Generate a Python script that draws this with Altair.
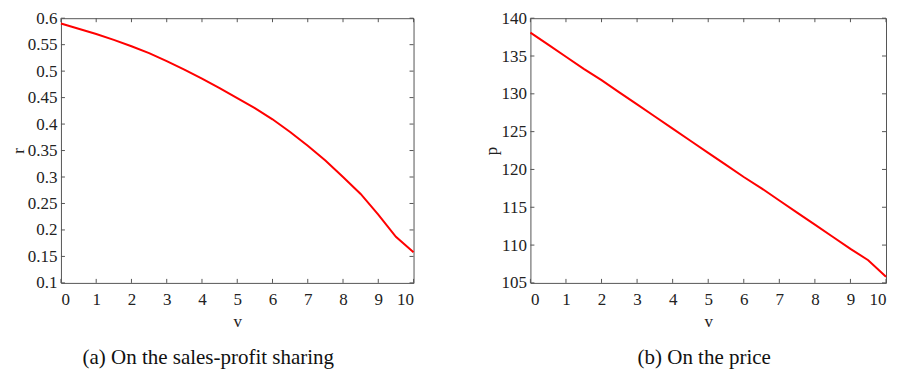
import altair as alt
import pandas as pd

v_vals = [0, 0.5, 1, 1.5, 2, 2.5, 3, 3.5, 4, 4.5, 5, 5.5, 6, 6.5, 7, 7.5, 8, 8.5, 9, 9.5, 10]
r_vals = [0.590, 0.580, 0.570, 0.559, 0.547, 0.534, 0.519, 0.503, 0.486, 0.468, 0.449,
          0.430, 0.409, 0.385, 0.359, 0.331, 0.300, 0.268, 0.229, 0.187, 0.158]
p_vals = [138.1, 136.5, 134.9, 133.3, 131.8, 130.2, 128.6, 127.0, 125.4, 123.8, 122.2,
          120.6, 119.0, 117.5, 115.9, 114.3, 112.7, 111.1, 109.5, 108.0, 105.8]

x_ticks = [0, 1, 2, 3, 4, 5, 6, 7, 8, 9, 10]
r_ticks = [0.1, 0.15, 0.2, 0.25, 0.3, 0.35, 0.4, 0.45, 0.5, 0.55, 0.6]
p_ticks = [105, 110, 115, 120, 125, 130, 135, 140]

captions = ["(a) On the sales-profit sharing", "(b) On the price"]

FONT = "Liberation Serif"
AX = "#555555"
TL = 4


def panel(yvals, yticks, ytitle, ydomain, caption, W, H, cap_dx):
    df = pd.DataFrame({"v": v_vals, "y": yvals})
    xt = pd.DataFrame({"xt": x_ticks})
    yt = pd.DataFrame({"yt": yticks})
    xs = alt.Scale(domain=[0, 10], nice=False, zero=False)
    ys = alt.Scale(domain=ydomain, nice=False, zero=False)
    fmt = ".2~f" if ydomain[1] < 1 else "d"
    xaxis = alt.Axis(values=x_ticks, format="d", ticks=False, domain=False, grid=False,
                     labelFont=FONT, labelFontSize=17, labelColor="#222",
                     labelPadding=9, titleFont=FONT, titleFontSize=17,
                     titleFontWeight="normal", titleColor="#222", titlePadding=6)
    yaxis = alt.Axis(values=yticks, format=fmt, ticks=False, domain=False, grid=False,
                     labelFont=FONT, labelFontSize=17, labelColor="#222",
                     labelPadding=4, titleFont=FONT, titleFontSize=17,
                     titleFontWeight="normal", titleColor="#222", titlePadding=0)
    line = alt.Chart(df).mark_line(color="#ff0000", strokeWidth=2).encode(
        x=alt.X("v:Q", scale=xs, title="v", axis=xaxis),
        y=alt.Y("y:Q", scale=ys, title=ytitle, axis=yaxis),
    )
    bt = alt.Chart(xt).mark_rule(color=AX, strokeWidth=1).encode(
        x=alt.X("xt:Q", scale=xs, title="v", axis=xaxis), y=alt.value(H), y2=alt.value(H - TL))
    tt = alt.Chart(xt).mark_rule(color=AX, strokeWidth=1).encode(
        x=alt.X("xt:Q", scale=xs, title="v", axis=xaxis), y=alt.value(0), y2=alt.value(TL))
    lt = alt.Chart(yt).mark_rule(color=AX, strokeWidth=1).encode(
        y=alt.Y("yt:Q", scale=ys, title=ytitle, axis=yaxis), x=alt.value(0), x2=alt.value(TL))
    rt = alt.Chart(yt).mark_rule(color=AX, strokeWidth=1).encode(
        y=alt.Y("yt:Q", scale=ys, title=ytitle, axis=yaxis), x=alt.value(W), x2=alt.value(W - TL))
    return alt.layer(line, bt, tt, lt, rt).properties(
        width=W, height=H,
        title=alt.TitleParams(caption, orient="bottom", font=FONT, fontSize=21,
                              fontWeight="normal", color="#111", offset=17,
                              anchor="middle", frame="group", dx=cap_dx),
    )


left = panel(r_vals, r_ticks, "r", [0.1, 0.6], captions[0], 353, 265, -29)
right = panel(p_vals, p_ticks, "p", [105, 140], captions[1], 356, 265, -4)

chart = alt.hconcat(left, right, spacing=64).configure_view(
    stroke=AX, strokeWidth=1
).properties(padding={"left": 0, "top": 0, "right": 0, "bottom": 0}, background="white")

chart.save("out.html", embed_options={"renderer": "svg", "actions": False})
